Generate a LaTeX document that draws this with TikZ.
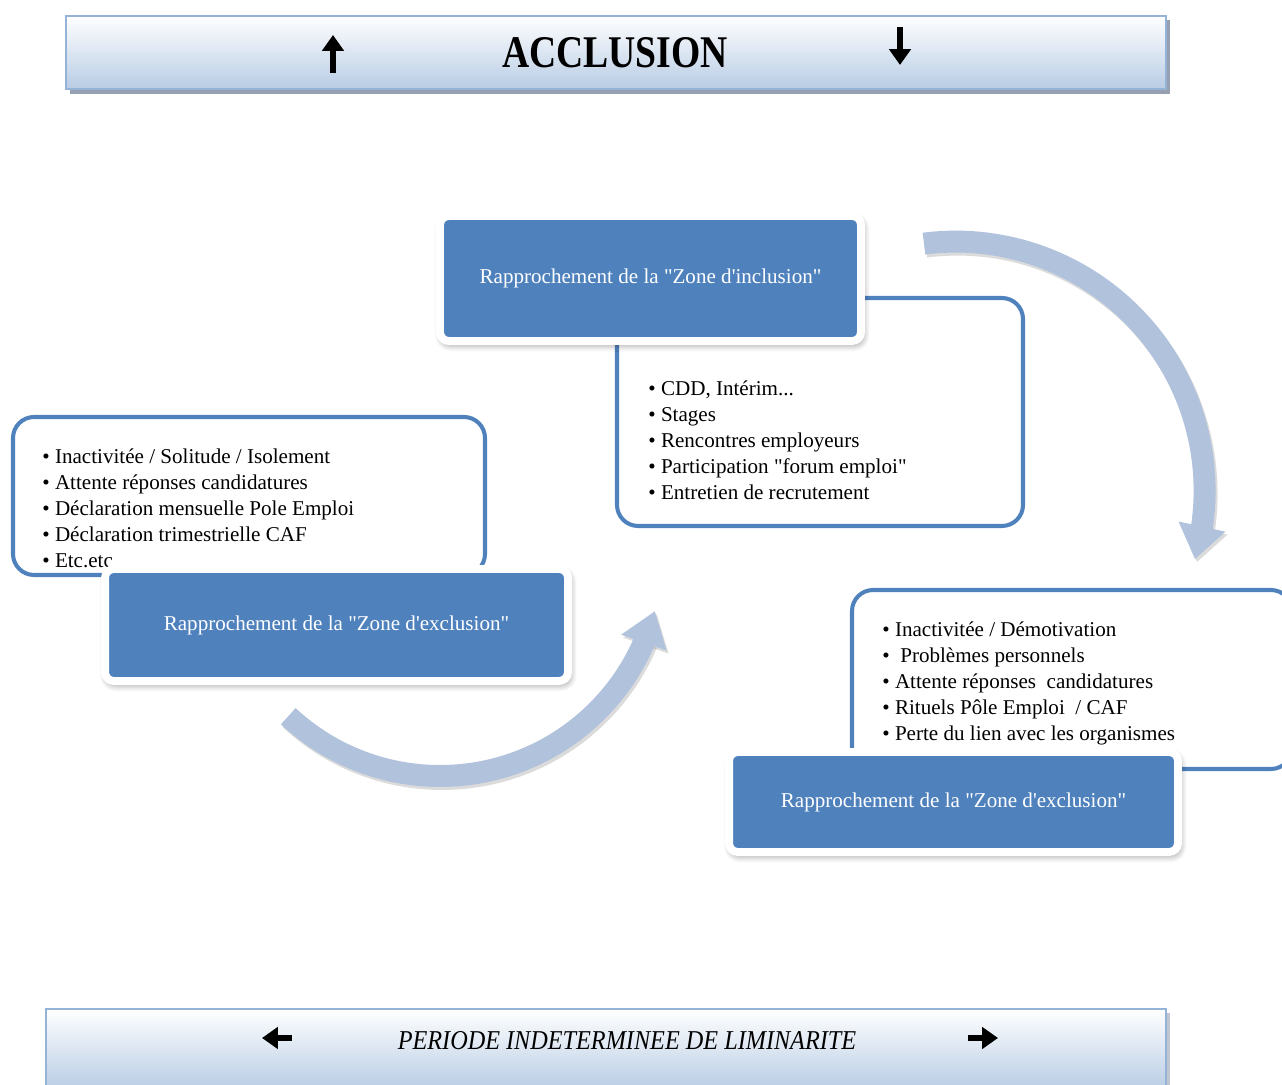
\documentclass[tikz,border=0pt]{standalone}
\usepackage{fontspec}
\setmainfont{Liberation Serif}
\usepackage{graphicx}
\usepackage{tikz}
\usetikzlibrary{arrows.meta,bending,shadows.blur}
\definecolor{boxblue}{RGB}{79,129,189}
\definecolor{bandblue}{RGB}{177,194,221}
\definecolor{bannerblue}{RGB}{184,204,228}
\definecolor{bannerline}{RGB}{149,179,215}
\definecolor{bannershadow}{RGB}{150,160,176}

\begin{document}
\begin{tikzpicture}[x=0.02cm, y=0.02cm,
    listframe/.style={draw=boxblue, line width=2.3pt, rounded corners=12pt},
    listtext/.style={anchor=west, align=left, inner sep=0pt, font=\fontsize{12}{14.8}\selectfont},
    zonebox/.style={draw=white, line width=4.5pt, fill=boxblue, rounded corners=5pt, text=white,
        font=\fontsize{12}{14}\selectfont,
        blur shadow={shadow xshift=1pt, shadow yshift=-2pt, shadow blur radius=4pt,
            shadow blur steps=8, shadow opacity=45, shadow blur extra rounding}},
    band/.style={bandblue, line width=12.5pt, -{Triangle[width=26pt,length=19pt]}},
    bandshadow/.style={black, opacity=0.14, line width=12.5pt, -{Triangle[width=26pt,length=19pt]}},
    glyph/.style={line width=3.4pt, -{Triangle[width=12pt,length=9pt]}}]
    % Page
    \clip (0,0) rectangle (1282,1085);

    % Top banner
    \fill[bannershadow] (70,991) rectangle (1170,1065);
    \shadedraw[top color=white, bottom color=bannerblue, draw=bannerline, line width=1pt] (66,996) rectangle (1166,1069);
    \node[font=\bfseries\fontsize{25.8}{28}\selectfont] (acclusion) at (615,1032) {\scalebox{0.83}[1]{ACCLUSION}};
    \coordinate (upfoot) at (333,1012);
    \coordinate (uptip) at (333,1050);
    \draw[glyph] (upfoot) -- (uptip);
    \coordinate (downfoot) at (900,1058);
    \coordinate (downtip) at (900,1020);
    \draw[glyph] (downfoot) -- (downtip);

    % Bottom banner
    \fill[bannershadow!60] (50,-5) rectangle (1170,72);
    \shadedraw[top color=white, bottom color=bannerblue, draw=bannerline, line width=1pt] (46,-5) rectangle (1166,76);
    \node[font=\itshape\fontsize{15.5}{17}\selectfont] (liminarite) at (627,44) {\scalebox{0.89}[1]{PERIODE INDETERMINEE DE LIMINARITE}};
    \coordinate (leftfoot) at (292,47);
    \coordinate (lefttip) at (262,47);
    \draw[glyph] (leftfoot) -- (lefttip);
    \coordinate (rightfoot) at (968,47);
    \coordinate (righttip) at (998,47);
    \draw[glyph] (rightfoot) -- (righttip);

    % Cycle arrows
    \coordinate (hub1) at (955.6,594.4);
    \coordinate (hub2) at (440,531.5);
    \draw[bandshadow] ([shift={(97.3:249)}]hub1) ++(2,-3) arc[start angle=97.3, end angle=-16, radius=249];
    \draw[band] ([shift={(97.3:249)}]hub1) arc[start angle=97.3, end angle=-16, radius=249];
    \draw[bandshadow] ([shift={(-133:222.5)}]hub2) ++(2,-3) arc[start angle=-133, end angle=-15, radius=222.5];
    \draw[band] ([shift={(-133:222.5)}]hub2) arc[start angle=-133, end angle=-15, radius=222.5];

    % Lists
    \draw[listframe] (13,510) rectangle (485,668);
    \draw[listframe] (617,559) rectangle (1023,787);
    \draw[listframe] (852,316) rectangle (1292,495);

    \node[listtext] (exclusionlist) at (42,577) {\textbullet\ Inactivitée / Solitude / Isolement\\
        \textbullet\ Attente réponses candidatures\\
        \textbullet\ Déclaration mensuelle Pole Emploi\\
        \textbullet\ Déclaration trimestrielle CAF\\
        \textbullet\ Etc.etc};
    \node[listtext] (inclusionlist) at (648,645) {\textbullet\ CDD, Intérim...\\
        \textbullet\ Stages\\
        \textbullet\ Rencontres employeurs\\
        \textbullet\ Participation \textquotedbl forum emploi\textquotedbl\\
        \textbullet\ Entretien de recrutement};
    \node[listtext] (retourlist) at (882,402) {\textbullet\ Inactivitée / Démotivation\\
        \textbullet\ \ Problèmes personnels\\
        \textbullet\ Attente réponses\ \ candidatures\\
        \textbullet\ Rituels Pôle Emploi\ \ / CAF\\
        \textbullet\ Perte du lien avec les organismes};

    % Zones
    \node[zonebox, minimum width=8.42cm, minimum height=2.5cm] (inclusion) at (650.5,806.5) {Rapprochement de la \textquotedbl Zone d\textquotesingle inclusion\textquotedbl};
    \node[zonebox, minimum width=9.26cm, minimum height=2.24cm] (exclusion) at (336.5,460) {Rapprochement de la \textquotedbl Zone d\textquotesingle exclusion\textquotedbl};
    \node[zonebox, minimum width=8.98cm, minimum height=2.0cm] (retour) at (953.5,283) {Rapprochement de la \textquotedbl Zone d\textquotesingle exclusion\textquotedbl};
\end{tikzpicture}
\end{document}
